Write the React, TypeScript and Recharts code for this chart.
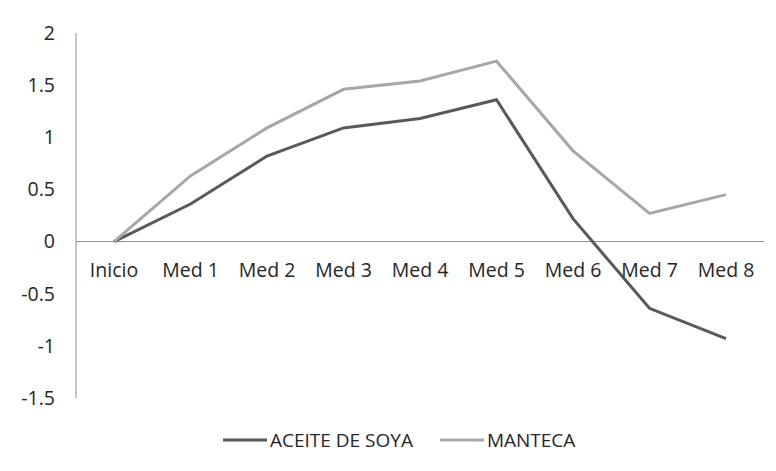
import { LineChart, Line, XAxis, YAxis, ReferenceLine, Legend } from "recharts";

const categories = ["Inicio", "Med 1", "Med 2", "Med 3", "Med 4", "Med 5", "Med 6", "Med 7", "Med 8"];
const aceiteDeSoya = [0, 0.36, 0.82, 1.09, 1.18, 1.36, 0.22, -0.64, -0.93];
const manteca = [0, 0.63, 1.09, 1.46, 1.54, 1.73, 0.87, 0.27, 0.45];
const yTicks = [-1.5, -1, -0.5, 0, 0.5, 1, 1.5, 2];

const series = [
  { key: "aceite", name: "ACEITE DE SOYA", color: "#58595b" },
  { key: "manteca", name: "MANTECA", color: "#a6a7a9" },
];

const data = categories.map((c, i) => ({
  name: c,
  aceite: aceiteDeSoya[i],
  manteca: manteca[i],
}));

const FONT = "'Open Sans', sans-serif";
const TEXT = "#262626";
const AXIS = "#8c8c8c";

// category labels sit just under the zero line, not at the bottom of the plot
const CategoryTick = (props: any) => {
  const { x, y, payload } = props;
  return (
    <text x={x} y={y} dy={-121} textAnchor="middle" fill={TEXT} fontSize={19.5} fontFamily={FONT}>
      {payload.value}
    </text>
  );
};

const LegendContent = () => (
  <div style={{ display: "flex", alignItems: "center", fontFamily: FONT, fontSize: 19, color: TEXT, whiteSpace: "nowrap" }}>
    {series.map((s, i) => (
      <div key={s.key} style={{ display: "flex", alignItems: "center", marginLeft: i === 0 ? 0 : 27 }}>
        <svg width={44} height={6} style={{ marginRight: 3 }}>
          <line x1={0} y1={3} x2={44} y2={3} stroke={s.color} strokeWidth={3} strokeLinecap="round" />
        </svg>
        <span>{s.name}</span>
      </div>
    ))}
  </div>
);

export default function App() {
  return (
    <div
      style={{
        margin: -8,
        width: 776,
        height: 471,
        background: "#fff",
        position: "relative",
        boxSizing: "border-box",
        boxShadow: "inset 7px 6px 0 -5px #8a8a8a",
      }}
    >
      <div style={{ position: "absolute", left: 0, top: 0 }}>
        <LineChart width={776} height={471} data={data} margin={{ top: 33, right: 12, left: 0, bottom: 53 }}>
          <rect x={6} y={5} width={2} height={470} fill="#8a8a8a" />
          <rect x={6} y={5} width={780} height={2} fill="#8a8a8a" />
          <XAxis
            dataKey="name"
            axisLine={false}
            tickLine={false}
            tickSize={0}
            tickMargin={0}
            height={20}
            interval={0}
            padding={{ left: 38, right: 38 }}
            tick={<CategoryTick />}
          />
          <YAxis
            domain={[-1.5, 2]}
            ticks={yTicks}
            width={76}
            axisLine={{ stroke: AXIS, strokeWidth: 1 }}
            tickLine={false}
            tickSize={0}
            tickMargin={21}
            tick={{ fill: TEXT, fontSize: 19.5, fontFamily: FONT }}
          />
          <ReferenceLine y={0} stroke={AXIS} strokeWidth={1} />
          {series.map((s) => (
            <Line
              key={s.key}
              type="linear"
              dataKey={s.key}
              name={s.name}
              stroke={s.color}
              strokeWidth={3}
              dot={false}
              activeDot={false}
              isAnimationActive={false}
            />
          ))}
          <Legend
            layout="horizontal"
            verticalAlign="middle"
            align="center"
            content={<LegendContent />}
            wrapperStyle={{ top: 427, left: 223, width: 420, height: 26 }}
          />
        </LineChart>
      </div>
    </div>
  );
}
